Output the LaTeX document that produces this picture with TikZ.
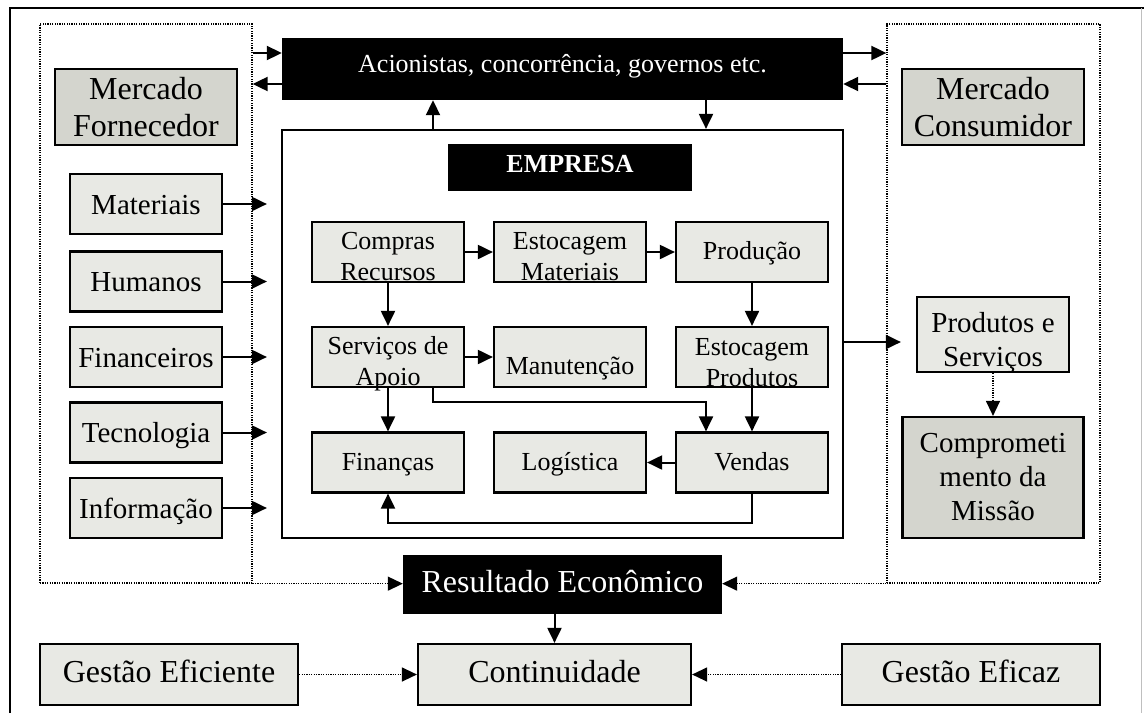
\documentclass[tikz,border=0pt]{standalone}
\usepackage{fontspec}
\setmainfont{Liberation Serif}
\usetikzlibrary{arrows.meta}
\definecolor{boxlight}{RGB}{232,233,228}
\definecolor{boxdark}{RGB}{212,213,206}
\newcommand{\fsInner}{\fontsize{26pt}{31pt}\selectfont}
\newcommand{\fsOuter}{\fontsize{29pt}{34pt}\selectfont}
\newcommand{\fsBig}{\fontsize{32pt}{37.5pt}\selectfont}
\begin{document}
\begin{tikzpicture}[x=1pt,y=-1pt,
  lbox/.style={draw=black, line width=2.2pt, fill=boxlight, inner sep=0pt, align=center},
  dbox/.style={lbox, fill=boxdark},
  bbox/.style={fill=black, text=white, inner sep=0pt, align=center},
  dotbox/.style={draw=black, line width=1.3pt, dash pattern=on 1.2pt off 1.2pt},
  ibox/.style={minimum width=152pt, minimum height=60pt},
  obox/.style={minimum width=152pt, minimum height=60pt, font=\fsOuter, text height=20pt, text depth=0pt},
  one/.style={font=\fsInner, text height=18pt, text depth=3pt},
  itext/.style={font=\fsInner, align=center, yshift=#1},
  itext/.default=-5pt,
  arr/.style={line width=2pt, -{Triangle[length=15pt,width=14pt]}},
  dotarr/.style={line width=1.3pt, dash pattern=on 1.2pt off 1.2pt, -{Triangle[length=15pt,width=14pt]}}
]
\useasboundingbox (0,0) rectangle (1144,713);

% page frame
\draw[line width=2.4pt] (10,713) -- (10,8) -- (1144,8);
\draw[black!25, line width=1pt] (1141,8) -- (1141,713);

% supplier and consumer market areas
\node[dotbox, minimum width=212pt, minimum height=559pt] (ldot) at (146,303.5) {};
\node[dotbox, minimum width=213pt, minimum height=559pt] (rdot) at (993.5,303.5) {};

% stakeholders bar
\node[bbox, minimum width=561pt, minimum height=62pt, font=\fsInner, text height=18pt, text depth=11pt] (ac) at (562.5,69) {Acionistas, concorrência, governos etc.};

% company
\node[draw=black, line width=2.2pt, fill=white, minimum width=561pt, minimum height=408pt] (emp) at (562.5,334) {};
\node[bbox, minimum width=244pt, minimum height=47pt, font=\fsInner\bfseries, text height=18pt, text depth=8pt] (empT) at (570,167.5) {EMPRESA};

% markets
\node[dbox, minimum width=182pt, minimum height=76pt, font=\fsBig] (mf) at (146,107) {Mercado\\Fornecedor};
\node[dbox, minimum width=182pt, minimum height=76pt, font=\fsBig] (mc) at (993,107) {Mercado\\Consumidor};

% resources
\node[lbox, obox] (mat) at (146,204) {Materiais};
\node[lbox, obox] (hum) at (146,281.5) {Humanos};
\node[lbox, obox] (fin) at (146,357) {Financeiros};
\node[lbox, obox] (tec) at (146,432.5) {Tecnologia};
\node[lbox, obox] (inf) at (146,508) {Informação};

% company functions
\node[lbox, ibox, label={[itext]center:Compras\\Recursos}] (cr) at (388,252) {};
\node[lbox, ibox, label={[itext]center:Estocagem\\Materiais}] (em) at (570,252) {};
\node[lbox, ibox, one] (pr) at (752,252) {Produção};
\node[lbox, ibox, label={[itext=-7pt]center:Serviços de\\Apoio}] (sa) at (388,357) {};
\node[lbox, ibox, label={[itext=-12pt]center:Manutenção}] (mn) at (570,357) {};
\node[lbox, ibox, label={[itext=-5.5pt]center:Estocagem\\Produtos}] (ep) at (752,357) {};
\node[lbox, ibox, one] (fi) at (388,462.5) {Finanças};
\node[lbox, ibox, one] (lo) at (570,462.5) {Logística};
\node[lbox, ibox, one] (ve) at (752,462.5) {Vendas};

% outputs
\node[lbox, minimum width=152pt, minimum height=75pt, label={[font=\fsOuter, align=center, yshift=-8pt]center:Produtos e\\Serviços}] (pe) at (993,334.5) {};
\node[dbox, minimum width=181pt, minimum height=121pt, font=\fsOuter] (cm) at (993,477.5) {Comprometi\\mento da\\Missão};

% results
\node[bbox, minimum width=319pt, minimum height=59pt, font=\fsBig, text height=22pt, text depth=6pt] (re) at (562.5,584.5) {Resultado Econômico};
\node[lbox, minimum width=273pt, minimum height=61pt, font=\fsBig, text height=22pt, text depth=6pt] (co) at (554.5,674.5) {Continuidade};
\node[lbox, minimum width=258pt, minimum height=61pt, font=\fsBig, text height=22pt, text depth=6pt] (ge) at (169,674.5) {Gestão Eficiente};
\node[lbox, minimum width=258pt, minimum height=61pt, font=\fsBig, text height=22pt, text depth=6pt] (gz) at (971,674.5) {Gestão Eficaz};

% helper coordinates for routed connectors
\coordinate (ya) at (0,53);
\coordinate (yb) at (0,84);
\coordinate (yc) at (0,402);
\coordinate (yd) at (0,523);
\coordinate (ye) at (0,342);
\coordinate (xa) at (433,0);
\coordinate (xb) at (706,0);

% exchanges with the stakeholders
\draw[arr] (ldot.east |- ya) -- (ac.west |- ya);
\draw[arr] (ac.west |- yb) -- (ldot.east |- yb);
\draw[arr] (ac.east |- ya) -- (rdot.west |- ya);
\draw[arr] (rdot.west |- yb) -- (ac.east |- yb);
\draw[arr] (emp.north -| xa) -- (ac.south -| xa);
\draw[arr] (ac.south -| xb) -- (emp.north -| xb);

% resources into the company
\foreach \n in {mat,hum,fin,tec,inf}
  \draw[arr, shorten >=14pt] (\n.east) -- (\n.east -| emp.west);

% internal flow
\draw[arr] (cr.east) -- (em.west);
\draw[arr] (em.east) -- (pr.west);
\draw[arr] (cr.south) -- (sa.north);
\draw[arr] (pr.south) -- (ep.north);
\draw[arr] (sa.east) -- (mn.west);
\draw[arr] (sa.south) -- (fi.north);
\draw[arr] (ep.south) -- (ve.north);
\draw[arr] (sa.south -| xa) -- (xa |- yc) -| (ve.north -| xb);
\draw[arr] (ve.west) -- (lo.east);
\draw[arr] (ve.south) -- (ve.south |- yd) -| (fi.south);

% company output
\draw[arr, shorten >=15pt] (emp.east |- ye) -- (pe.west |- ye);
\draw[dotarr] (pe.south) -- (pe.south |- cm.north);

% results and continuity
\draw[dotarr] (ldot.south east) -- (re.west |- ldot.south east);
\draw[dotarr] (rdot.south west) -- (re.east |- rdot.south west);
\draw[arr] (re.south -| co.north) -- (co.north);
\draw[dotarr] (ge.east) -- (co.west);
\draw[dotarr] (gz.west) -- (co.east);
\end{tikzpicture}
\end{document}
